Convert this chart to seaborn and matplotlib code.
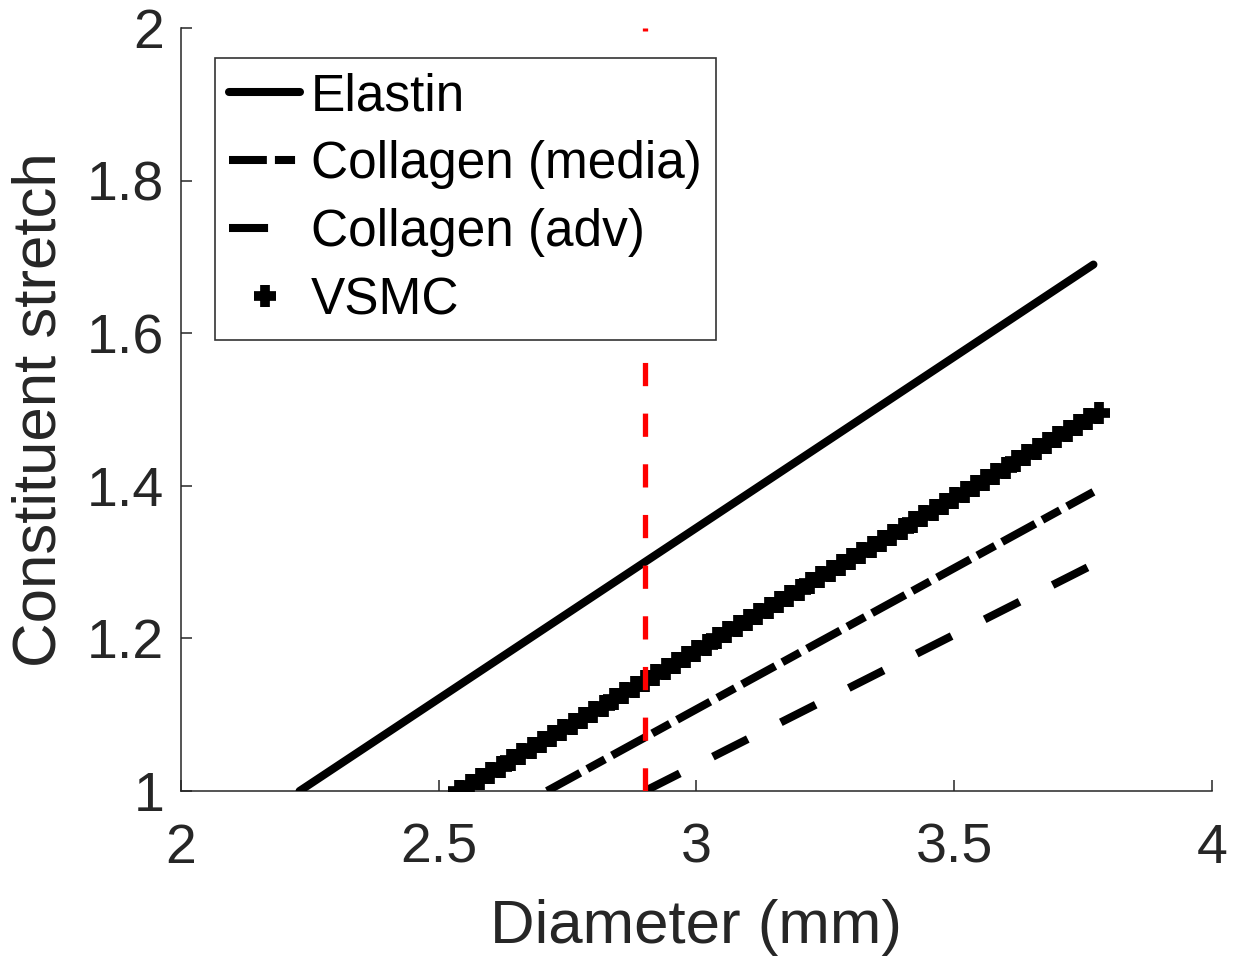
import numpy as np
import pandas as pd
import matplotlib
matplotlib.use("Agg")
import matplotlib.pyplot as plt
from matplotlib.ticker import FuncFormatter
import seaborn as sns

# ---------------- data ----------------
elastin_x = [2.23, 3.77]
elastin_y = [1.00, 1.69]

coll_media_x = [2.71, 3.77]
coll_media_y = [1.00, 1.392]

coll_adv_x = [2.90, 3.77]
coll_adv_y = [1.00, 1.297]

vsmc_x = [2.54, 2.56, 2.58, 2.60, 2.62, 2.64, 2.66, 2.68, 2.70, 2.72,
          2.74, 2.76, 2.78, 2.80, 2.82, 2.84, 2.86, 2.88, 2.90, 2.92,
          2.94, 2.96, 2.98, 3.00, 3.02, 3.04, 3.06, 3.08, 3.10, 3.12,
          3.14, 3.16, 3.18, 3.20, 3.22, 3.24, 3.26, 3.28, 3.30, 3.32,
          3.34, 3.36, 3.38, 3.40, 3.42, 3.44, 3.46, 3.48, 3.50, 3.52,
          3.54, 3.56, 3.58, 3.60, 3.62, 3.64, 3.66, 3.68, 3.70, 3.72,
          3.74, 3.76, 3.78]
vsmc_y = [1.000, 1.008, 1.016, 1.024, 1.032, 1.040, 1.048, 1.056, 1.064, 1.072,
          1.080, 1.088, 1.096, 1.104, 1.112, 1.120, 1.128, 1.136, 1.144, 1.152,
          1.160, 1.168, 1.176, 1.184, 1.192, 1.200, 1.208, 1.216, 1.224, 1.232,
          1.240, 1.248, 1.256, 1.264, 1.272, 1.280, 1.288, 1.296, 1.304, 1.312,
          1.320, 1.328, 1.336, 1.344, 1.352, 1.360, 1.368, 1.376, 1.384, 1.392,
          1.400, 1.408, 1.416, 1.424, 1.432, 1.440, 1.448, 1.456, 1.464, 1.472,
          1.480, 1.488, 1.496]

ref_x = [2.90, 2.90]
ref_y = [1.0, 2.0]

x_ticks = [2, 2.5, 3, 3.5, 4]
y_ticks = [1, 1.2, 1.4, 1.6, 1.8, 2]

labels = ["Elastin", "Collagen (media)", "Collagen (adv)", "VSMC"]

# ---------------- style ----------------
sns.set_theme(style="white")
plt.rcParams['font.family'] = ['Liberation Sans', 'DejaVu Sans']
TXT = "#262626"

fig = plt.figure(figsize=(12.38, 9.63), dpi=100)
ax = fig.add_axes([0.1462, 0.1786, 0.979 - 0.1462, 0.9709 - 0.1786])

LW = 5.8

sns.lineplot(x=elastin_x, y=elastin_y, ax=ax, color="black", lw=LW,
             estimator=None, linestyle="-", label=labels[0], zorder=3)
sns.lineplot(x=coll_media_x, y=coll_media_y, ax=ax, color="black", lw=LW,
             estimator=None, linestyle=(0, (4.7, 1.0, 2.5, 1.0)),
             label=labels[1], zorder=3)
sns.lineplot(x=coll_adv_x, y=coll_adv_y, ax=ax, color="black", lw=LW,
             estimator=None, linestyle=(0, (4.85, 4.6)),
             label=labels[2], zorder=3)
sns.lineplot(x=vsmc_x, y=vsmc_y, ax=ax, color="black", lw=0, linestyle="none",
             estimator=None, marker="+", markersize=16.5, markeredgewidth=7,
             markeredgecolor="black", label=labels[3], zorder=3.5)

# red reference line (drawn above the curves, below the legend)
sns.lineplot(x=ref_x, y=ref_y, ax=ax, color="#ff0000", estimator=None,
             lw=3.8, linestyle=(0, (4.4, 5.2)), sort=False, zorder=4)

ax.set_xlim(2, 4)
ax.set_ylim(1, 2)
ax.set_xticks(x_ticks)
ax.set_yticks(y_ticks)
ax.xaxis.set_major_formatter(FuncFormatter(lambda v, p: f"{v:g}"))
ax.yaxis.set_major_formatter(FuncFormatter(lambda v, p: f"{v:g}"))

for side in ["top", "right"]:
    ax.spines[side].set_visible(False)
for side in ["left", "bottom"]:
    ax.spines[side].set_color(TXT)
    ax.spines[side].set_linewidth(1.1)

ax.tick_params(axis="both", direction="in", length=8, width=1.1, color=TXT,
               labelsize=40, labelcolor=TXT, bottom=True, left=True)
ax.tick_params(axis="x", pad=23)
ax.tick_params(axis="y", pad=12)

ax.set_xlabel("Diameter (mm)", fontsize=44.5, color=TXT, labelpad=17)
ax.set_ylabel("Constituent stretch", fontsize=44.5, color=TXT, labelpad=13)

leg = ax.legend(loc="upper left", bbox_to_anchor=(0.033, 0.961),
                borderaxespad=0, fontsize=37, frameon=True, fancybox=False,
                framealpha=1, edgecolor="#333333", handlelength=1.38,
                handletextpad=0.2, borderpad=0.28, labelspacing=0.37)
leg.set_zorder(10)
leg.get_frame().set_linewidth(1.2)
for t in leg.get_texts():
    t.set_color("black")

fig.savefig("out.png", dpi=100, facecolor="white")
